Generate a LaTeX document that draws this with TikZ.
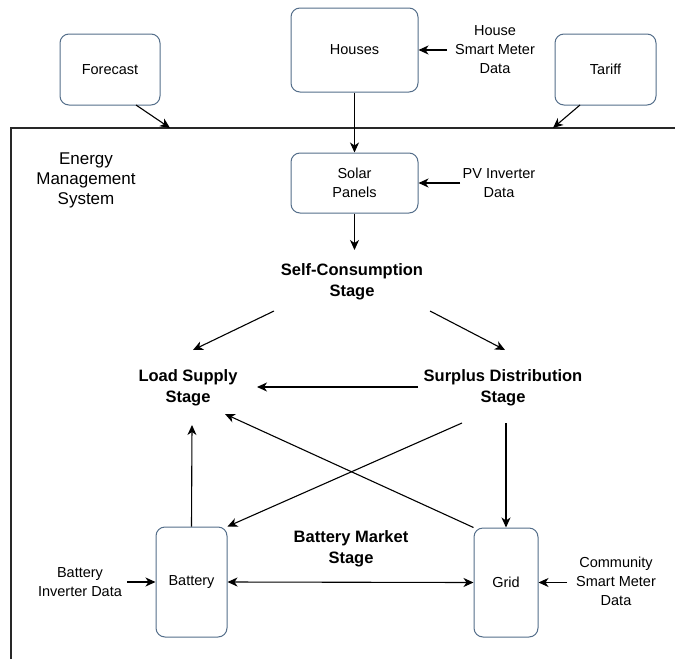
\documentclass[tikz,border=0pt]{standalone}
\usepackage{fontspec}
\setmainfont{Liberation Sans}
\usetikzlibrary{arrows.meta}
\definecolor{boxblue}{RGB}{84,110,138}
\definecolor{framegray}{RGB}{40,40,40}
\begin{document}
\begin{tikzpicture}[x=1pt,y=-1pt,
  box/.style={draw=boxblue,line width=1pt,rounded corners=9pt,fill=white,
    align=center,inner sep=0pt,font=\fontsize{14.5}{19.5}\selectfont},
  lbl/.style={align=center,inner sep=0pt,font=\fontsize{14.5}{19}\selectfont},
  stage/.style={align=center,inner sep=0pt,font=\fontsize{16.5}{21}\selectfont\bfseries},
  tip/.tip={Stealth[length=10pt,width=9pt,inset=3pt]},
  arr/.style={line width=1.1pt,-tip},
  darr/.style={line width=1.1pt,tip-tip}]
\useasboundingbox (0,0) rectangle (675,659);

% outer system frame, open to the right and bottom
\draw[framegray,line width=1.2pt] (11,659) -- (11,128) -- (675,128);

% boxes
\node[box,minimum width=100pt,minimum height=71pt] (forecast) at (110,69.5) {Forecast};
\node[box,minimum width=127pt,minimum height=84pt] (houses) at (354.5,50) {Houses};
\node[box,minimum width=101pt,minimum height=71pt] (tariff) at (605.5,69.5) {Tariff};
\node[box,minimum width=127pt,minimum height=60pt] (solar) at (354.5,183) {Solar\\Panels};
\node[box,minimum width=71pt,minimum height=110pt] (battery) at (191.5,582) {Battery};
\node[box,minimum width=64pt,minimum height=109pt] (grid) at (506,582.5) {Grid};

% data labels
\node[lbl] (hsm) at (495,50) {House\\Smart Meter\\Data};
\node[lbl] (pvi) at (499,183) {PV Inverter\\Data};
\node[lbl,font=\fontsize{17}{20}\selectfont] (ems) at (86,180) {Energy\\Management\\System};
\node[lbl] (bid) at (80,582.5) {Battery\\Inverter Data};
\node[lbl] (csm) at (616,581) {Community\\Smart Meter\\Data};

% stages
\node[stage] (sc) at (352,281.5) {Self-Consumption\\Stage};
\node[stage] (load) at (188,388) {Load Supply\\Stage};
\node[stage] (surplus) at (503,388) {Surplus Distribution\\Stage};
\node[stage] (bms) at (351,548.5) {Battery Market\\Stage};

% connector ends around the stage labels and frame
\coordinate (fcout) at (136,105);
\coordinate (fcin) at (170,128);
\coordinate (tfout) at (580,105);
\coordinate (tfin) at (553,128);
\coordinate (hsmout) at (447,50);
\coordinate (pviout) at (460,183);
\coordinate (bidout) at (127,582);
\coordinate (csmout) at (567,582.5);
\coordinate (scin) at (354.5,250);
\coordinate (scl) at (274,311);
\coordinate (scr) at (430,311);
\coordinate (loadtop) at (193,350);
\coordinate (surtop) at (505,350);
\coordinate (surw) at (418,387);
\coordinate (loade) at (257,387);
\coordinate (loadse) at (225,414);
\coordinate (loadbot) at (192,425);
\coordinate (surbl) at (462,423);
\coordinate (surbot) at (506,423);

% inputs
\draw[arr] (fcout) -- (fcin);
\draw[arr] (tfout) -- (tfin);
\draw[arr] (houses.south) -- (solar.north);
\draw[arr] (hsmout) -- (houses.east);
\draw[arr] (pviout) -- (solar.east);
\draw[arr] (bidout) -- (battery.west);
\draw[arr] (csmout) -- (grid.east);

% energy flows between stages
\draw[arr] (solar.south) -- (scin);
\draw[arr] (scl) -- (loadtop);
\draw[arr] (scr) -- (surtop);
\draw[arr] (surw) -- (loade);
\draw[arr] (grid.north west) -- (loadse);
\draw[arr] (battery.north) -- (loadbot);
\draw[arr] (surbl) -- (battery.north east);
\draw[arr] (surbot) -- (grid.north);
\draw[darr] (battery.east) -- (grid.west);
\end{tikzpicture}
\end{document}
